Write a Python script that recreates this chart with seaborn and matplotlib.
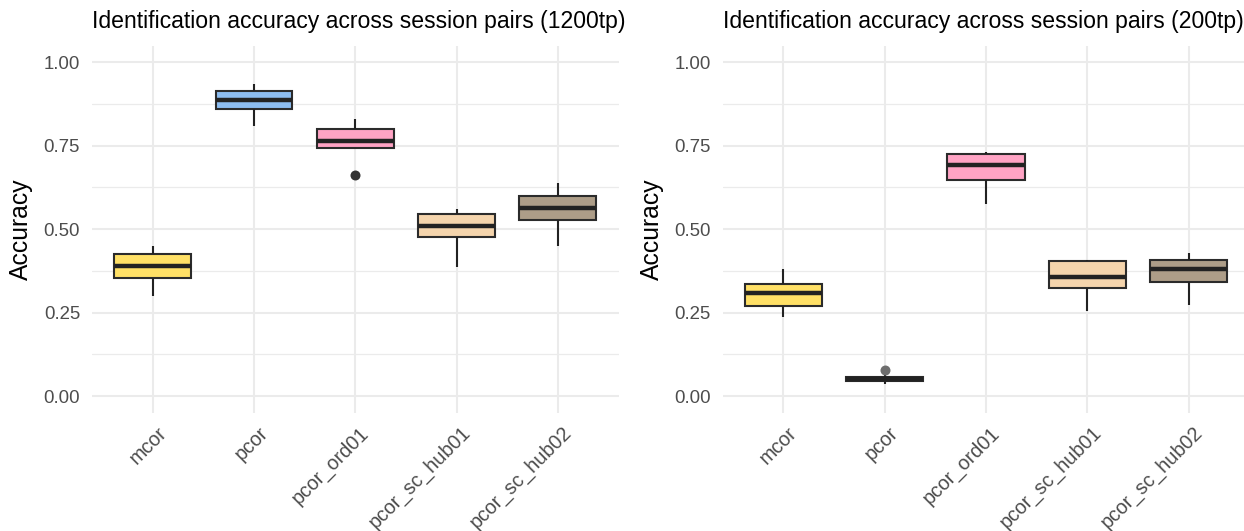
import numpy as np
import pandas as pd
import matplotlib
matplotlib.use("Agg")
import matplotlib.pyplot as plt
import matplotlib.transforms as mtransforms
import seaborn as sns
from matplotlib.ticker import MultipleLocator

# ---------------- data ----------------
methods = ["mcor", "pcor", "pcor_ord01", "pcor_sc_hub01", "pcor_sc_hub02"]

# 1200 time points: lower whisker, Q1, median, Q3, upper whisker
lo_1200 = [0.300, 0.810, 0.744, 0.386, 0.450]
q1_1200 = [0.353, 0.861, 0.744, 0.475, 0.527]
med_1200 = [0.389, 0.887, 0.765, 0.509, 0.563]
q3_1200 = [0.427, 0.914, 0.799, 0.546, 0.599]
hi_1200 = [0.451, 0.934, 0.829, 0.561, 0.637]
out_method_1200 = ["pcor_ord01"]
out_value_1200 = [0.662]

# 200 time points
lo_200 = [0.238, 0.036, 0.576, 0.256, 0.273]
q1_200 = [0.270, 0.044, 0.647, 0.323, 0.341]
med_200 = [0.310, 0.051, 0.693, 0.358, 0.380]
q3_200 = [0.335, 0.058, 0.725, 0.405, 0.409]
hi_200 = [0.380, 0.062, 0.731, 0.409, 0.428]
out_method_200 = ["pcor"]
out_value_200 = [0.077]

titles = ["Identification accuracy across session pairs (1200tp)",
          "Identification accuracy across session pairs (200tp)"]
ylabel = "Accuracy"
yticks = [0.00, 0.25, 0.50, 0.75, 1.00]
ytick_labels = ["0.00", "0.25", "0.50", "0.75", "1.00"]

colors = ["#FFE066", "#8DBDF0", "#FFA3C4", "#F4D4AC", "#AD9D88"]

# ---------------- style ----------------
sns.set_theme(style="whitegrid")
plt.rcParams["font.family"] = ["Liberation Sans", "DejaVu Sans"]


def long_frame(lo, q1, med, q3, hi):
    rows = []
    for m, a, b, c, d, e in zip(methods, lo, q1, med, q3, hi):
        for v in (a, b, c, d, e):
            rows.append({"method": m, "acc": v})
    return pd.DataFrame(rows)


W, H = 1244, 531
fig = plt.figure(figsize=(W / 100, H / 100), dpi=100)
ax_bottom = (H - 412.7) / H
ax_h = 367.1 / H
axes = [fig.add_axes([92 / W, ax_bottom, 526.5 / W, ax_h]),
        fig.add_axes([722.5 / W, ax_bottom, 527 / W, ax_h])]

panels = [
    (long_frame(lo_1200, q1_1200, med_1200, q3_1200, hi_1200), out_method_1200, out_value_1200, "#333333"),
    (long_frame(lo_200, q1_200, med_200, q3_200, hi_200), out_method_200, out_value_200, "#6E6E6E"),
]

edge = "#2B2B2B"
shift = mtransforms.ScaledTranslation(4 / 100, 0, fig.dpi_scale_trans)
for ax, (df, om, ov, ocol), title in zip(axes, panels, titles):
    sns.boxplot(data=df, x="method", y="acc", hue="method", order=methods,
                hue_order=methods, palette=colors, saturation=1, dodge=False,
                width=0.76, linewidth=1.5, linecolor=edge, fliersize=0,
                whis=1.5, showcaps=False, legend=False, ax=ax,
                medianprops={"linewidth": 3.2, "color": "#222222"},
                whiskerprops={"linewidth": 1.5, "color": "#222222"},
                boxprops={"linewidth": 1.5, "edgecolor": edge})
    sns.stripplot(x=om, y=ov, order=methods, jitter=False, color=ocol,
                  size=7.2, linewidth=0, ax=ax, zorder=5)

    ax.set_xlim(-0.6, 4.6)
    ax.set_ylim(-0.05, 1.05)
    ax.set_yticks(yticks)
    ax.set_yticklabels(ytick_labels)
    ax.yaxis.set_minor_locator(MultipleLocator(0.125))
    ax.set_facecolor("white")
    for s in ax.spines.values():
        s.set_visible(False)
    ax.grid(True, which="major", axis="both", color="#EBEBEB", linewidth=1.5)
    ax.grid(True, which="minor", axis="y", color="#EBEBEB", linewidth=0.9)
    ax.set_axisbelow(True)
    ax.tick_params(axis="both", which="both", length=0, labelsize=13.4,
                   labelcolor="#4D4D4D")
    ax.tick_params(axis="x", labelsize=14.2, pad=7.5)
    ax.tick_params(axis="y", pad=8.6)
    for lab in ax.get_xticklabels():
        lab.set_rotation(45)
        lab.set_ha("right")
        lab.set_va("top")
        lab.set_rotation_mode("anchor")
        lab.set_transform(lab.get_transform() + shift)
    ax.set_xlabel("")
    ax.set_ylabel(ylabel, fontsize=17.8, color="black")
    ax.yaxis.set_label_coords(-0.1115, 0.5)
    ax.text(0.0, 1.0 + 17.6 / 367.1, title, transform=ax.transAxes,
            fontsize=16.6, color="black", ha="left", va="baseline")

fig.savefig("out.png", dpi=100, facecolor="white")
